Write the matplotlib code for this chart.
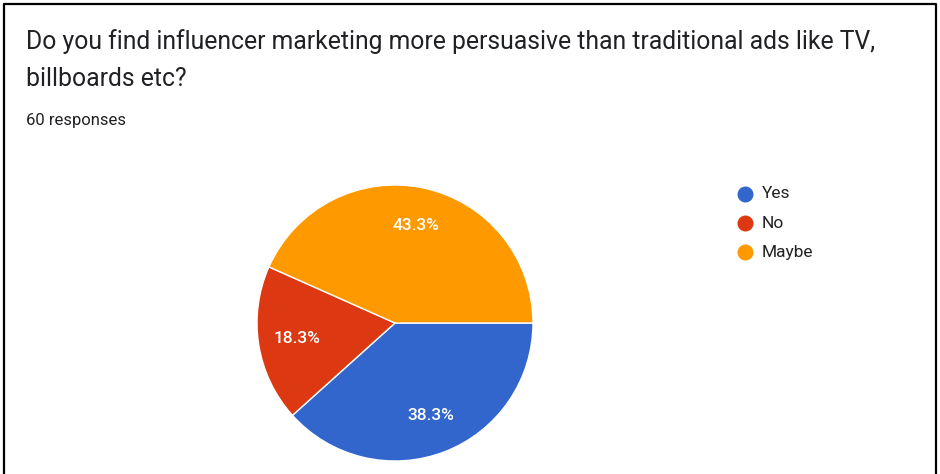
import matplotlib.pyplot as plt
from matplotlib.lines import Line2D

labels = ["Yes", "No", "Maybe"]
counts = [23, 11, 26]
colors = ["#3366CC", "#DC3912", "#FF9900"]
title = "Do you find influencer marketing more persuasive than traditional ads like TV,\nbillboards etc?"
subtitle = "60 responses"

W, H = 940, 474
fig = plt.figure(figsize=(W / 100, H / 100), dpi=100)
fig.patch.set_facecolor("white")

# frame around the card (bottom edge is cut off)
fig.add_artist(Line2D([4 / W, 4 / W, 936 / W, 936 / W], [0, 1 - 4 / H, 1 - 4 / H, 0],
                      transform=fig.transFigure, color="black", lw=1.6))

fig.text(26 / W, 1 - 29 / H, title, ha="left", va="top", fontsize=17.8,
         family="Roboto", color="#202124", linespacing=1.68)
fig.text(26 / W, 1 - 113 / H, subtitle, ha="left", va="top", fontsize=12,
         family="Roboto", color="#202124")

cx, cy, r = 395, 323, 138
ax = fig.add_axes([(cx - r) / W, (H - cy - r) / H, 2 * r / W, 2 * r / H])
wedges, texts, autotexts = ax.pie(
    counts, colors=colors, startangle=0, counterclock=False,
    autopct="%1.1f%%", pctdistance=0.72,
    wedgeprops=dict(edgecolor="white", linewidth=1),
    textprops=dict(color="white", fontsize=12.5, family="Roboto", weight="medium"))
ax.set_xlim(-1, 1)
ax.set_ylim(-1, 1)

# legend
for i, (lab, col) in enumerate(zip(labels, colors)):
    y = 1 - (194 + 29 * i) / H
    fig.add_artist(Line2D([745 / W], [y], marker="o", markersize=10.5, color=col,
                          transform=fig.transFigure, linestyle="none"))
    fig.text(762 / W, y, lab, ha="left", va="center", fontsize=12.5,
             family="Roboto", color="#222222")

fig.savefig("out.png", dpi=100)
